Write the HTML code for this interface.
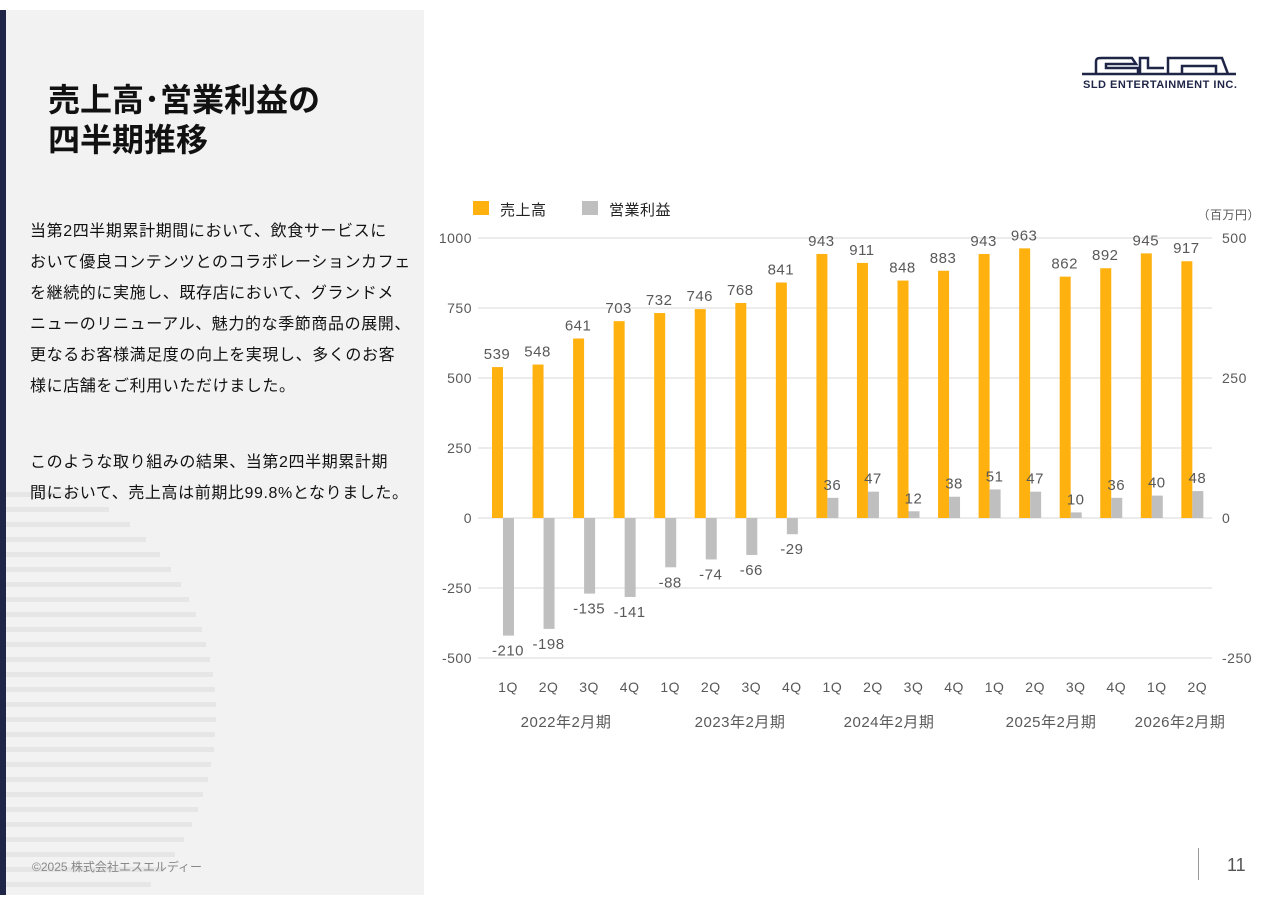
<!DOCTYPE html>
<html><head><meta charset="utf-8"><style>
body{margin:0;width:1280px;height:905px;background:#fff;position:relative;overflow:hidden;font-family:"Liberation Sans","Noto Sans CJK JP",sans-serif;}
#left{position:absolute;left:0;top:10px;width:424px;height:885px;background:#f2f2f2;overflow:hidden}
#bar{position:absolute;left:0;top:10px;width:6px;height:885px;background:#1f2547}
.stripe{position:absolute;left:6px;height:5px;background:#e6e6e6}
h1{position:absolute;left:48px;top:80px;margin:0;font-size:32px;line-height:40px;font-weight:bold;color:#111}
.body{position:absolute;left:30px;font-size:16px;line-height:31px;color:#111;width:400px;letter-spacing:0.6px}
svg text{letter-spacing:0.5px}
</style></head><body>
<div id="left"></div>
<div id="bar"></div>
<h1>売上高･営業利益の<br>四半期推移</h1>
<div class="body" style="top:216px">当第2四半期累計期間において、飲食サービスに<br>おいて優良コンテンツとのコラボレーションカフェ<br>を継続的に実施し、既存店において、グランドメ<br>ニューのリニューアル、魅力的な季節商品の展開、<br>更なるお客様満足度の向上を実現し、多くのお客<br>様に店舗をご利用いただけました。</div>
<div class="body" style="top:447px">このような取り組みの結果、当第2四半期累計期<br>間において、売上高は前期比99.8%となりました。</div>
<div style="position:absolute;left:32px;top:858px;font-size:12px;color:#888">©2025 株式会社エスエルディー</div>
<div style="position:absolute;left:1198px;top:848px;width:1px;height:32px;background:#999"></div>
<div style="position:absolute;left:1227px;top:855px;font-size:18px;color:#555">11</div>
<svg style="position:absolute;left:1082px;top:52px" width="158" height="40">
<path d="M0 22H154M14 22V10C14 6 16 6 20 6H50L54 12H24V16H56V22M58 22V6H66V16H82M86 22V6H140L146 22H134V14H100V22" fill="none" stroke="#1f2547" stroke-width="2.5"/>
<text x="1" y="36" font-size="11" font-weight="bold" fill="#1f2547" font-family="Liberation Sans Narrow, Liberation Sans, sans-serif">SLD ENTERTAINMENT INC.</text>
</svg>
<svg id="chart" style="position:absolute;left:0;top:0" width="1280" height="905"></svg>
<script>
const categories=["1Q","2Q","3Q","4Q","1Q","2Q","3Q","4Q","1Q","2Q","3Q","4Q","1Q","2Q","3Q","4Q","1Q","2Q"];
const sales=[539,548,641,703,732,746,768,841,943,911,848,883,943,963,862,892,945,917];
const profit=[-210,-198,-135,-141,-88,-74,-66,-29,36,47,12,38,51,47,10,36,40,48];
const leftTicks=[1000,750,500,250,0,-250,-500];
const rightTicks=[500,250,0,-250];
const years=["2022年2月期","2023年2月期","2024年2月期","2025年2月期","2026年2月期"];
const yearX=[566,740,889,1051,1180];
const svg=document.getElementById('chart');const NS='http://www.w3.org/2000/svg';
function yL(v){return 518-v*280/1000;}
function yR(v){return 518-v*280/500;}
function xG(i){return 492+i*40.55;}
function mk(t,a,name){const e=document.createElementNS(NS,t);for(const k in a)e.setAttribute(k,a[k]);


svg.appendChild(e);return e;}
leftTicks.forEach(v=>{mk('line',{x1:478,x2:1212,y1:yL(v),y2:yL(v),stroke:'#d9d9d9','stroke-width':1},'gridline');
const t=mk('text',{x:472,y:yL(v)+5,'text-anchor':'end','font-size':14,fill:'#595959'},'left-axis-tick');t.textContent=v;});
rightTicks.forEach(v=>{const t=mk('text',{x:1222,y:yR(v)+5,'font-size':14,fill:'#595959'},'right-axis-tick');t.textContent=v;});
const u=mk('text',{x:1260,y:219,'text-anchor':'end','font-size':12,fill:'#595959'},'unit-label');u.textContent='（百万円）';
sales.forEach((v,i)=>{const x=xG(i);mk('rect',{x:x,y:yL(v),width:11,height:518-yL(v),fill:'#ffb10f'},'sales-bar');
const t=mk('text',{x:x+5,y:yL(v)-8,'text-anchor':'middle','font-size':15,fill:'#595959'},'sales-value');t.textContent=v;});
profit.forEach((v,i)=>{const x=xG(i)+11;const y=yR(v);mk('rect',{x:x,y:Math.min(y,518),width:11,height:Math.abs(518-y),fill:'#bfbfbf'},'profit-bar');
const t=mk('text',{x:x+5,y:v>=0?y-8:y+20,'text-anchor':'middle','font-size':15,fill:'#595959'},'profit-value');t.textContent=v;});
categories.forEach((c,i)=>{const t=mk('text',{x:xG(i)+16,y:692,'text-anchor':'middle','font-size':14,fill:'#595959'},'quarter-label');t.textContent=c;});
years.forEach((c,i)=>{const t=mk('text',{x:yearX[i],y:727,'text-anchor':'middle','font-size':15,fill:'#595959'},'fiscal-year-label');t.textContent=c;});
mk('rect',{x:473,y:201,width:16,height:14,fill:'#ffb10f'},'legend-sales-swatch');
let t=mk('text',{x:500,y:215,'font-size':15,fill:'#222'},'legend-sales-label');t.textContent='売上高';
mk('rect',{x:582,y:201,width:16,height:14,fill:'#bfbfbf'},'legend-profit-swatch');
t=mk('text',{x:609,y:215,'font-size':15,fill:'#222'},'legend-profit-label');t.textContent='営業利益';
const L=document.getElementById('left');
for(let k=0;k<27;k++){const y=492+k*15;const d=(y-712)/235;const w=Math.max(0,210*Math.sqrt(Math.max(0,1-d*d)));
const s=document.createElement('div');s.className='stripe';s.style.top=(y-10)+'px';s.style.width=w+'px';


L.appendChild(s);}
</script>
</body></html>
